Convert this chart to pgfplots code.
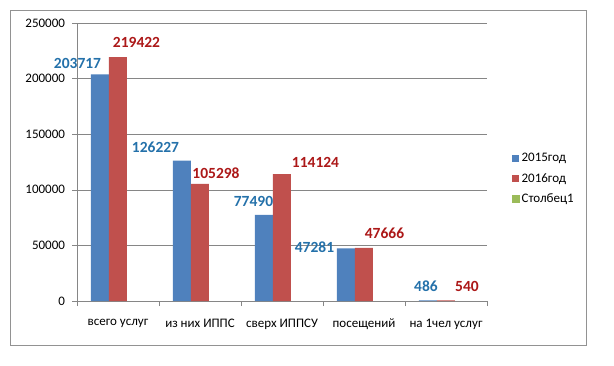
\documentclass[border=0pt]{standalone}
\usepackage{pgfplots}
\pgfplotsset{compat=1.18}
\usepackage{pgfplotstable}
\usepackage{fontspec}
\setmainfont{Carlito}
\definecolor{barblue}{RGB}{79,129,189}
\definecolor{barred}{RGB}{192,80,77}
\definecolor{bargreen}{RGB}{155,187,89}
\definecolor{lblblue}{RGB}{36,113,170}
\definecolor{lblred}{RGB}{172,24,24}
\definecolor{gridgray}{RGB}{134,134,134}

\pgfplotstableread{
x y dx dy
0 203717 -22.5 10.5
1 126227 -26.5 13.6
2 77490 -10.5 13.3
3 47281 -31.5 1.4
4 486 -2 13.8
}\bluedata
\pgfplotstableread{
x y dx dy
0 219422 18.5 15
1 105298 16 10.4
2 114124 33.5 12
3 47666 20.5 15
4 540 21 13.7
}\reddata

\begin{document}
\begin{tikzpicture}
\path (-77pt,-64pt) rectangle (537pt,301pt);
\draw[gridgray!90, line width=0.8pt] (-66.5pt,-44pt) rectangle (509pt,291pt);
\begin{axis}[
  at={(0pt,0pt)}, anchor=south west,
  scale only axis, width=410pt, height=278pt,
  xmin=-0.5, xmax=4.5, ymin=0, ymax=250000,
  ybar=0pt, bar width=18pt,
  axis x line*=bottom, axis y line*=left,
  axis line style={gridgray, line width=0.6pt},
  xtick={0,1,2,3,4},
  xticklabels={всего услуг, из них ИППС, сверх ИППСУ, посещений, на 1чел услуг},
  minor xtick={-0.5,0.5,1.5,2.5,3.5,4.5},
  major x tick style={draw=none},
  minor x tick style={gridgray, line width=0.6pt},
  minor tick length=5pt,
  major tick length=4.5pt,
  tick align=outside,
  ytick={0,50000,100000,150000,200000,250000},
  y tick style={gridgray, line width=0.6pt},
  ymajorgrids, major grid style={gridgray, line width=0.6pt},
  scaled y ticks=false,
  /pgf/number format/assume math mode=true,
  /pgf/number format/fixed,
  /pgf/number format/set thousands separator={},
  tick label style={font=\fontsize{13}{15}\selectfont, black},
  xticklabel style={yshift=-10pt},
  yticklabel style={xshift=-4pt},
  legend style={at={(1,0.44)}, anchor=west, xshift=22pt, draw=none, fill=none,
    font=\fontsize{13}{15}\selectfont, row sep=6pt,
    /tikz/every even column/.append style={column sep=2pt}},
  legend cell align=left,
  nodes near coords,
  point meta=explicit symbolic,
  visualization depends on={\thisrow{dx} \as \myDx},
  visualization depends on={\thisrow{dy} \as \myDy},
  every node near coord/.append style={anchor=center, xshift=\myDx pt, yshift=\myDy pt,
    font=\fontsize{15.5}{18}\selectfont\bfseries},
]
\addplot[fill=barblue, draw=none, bar shift=-18pt,
  every node near coord/.append style={text=lblblue},
  legend image code/.code={\fill[barblue] (0pt,-3.5pt) rectangle (7pt,3.5pt);}]
  table[x=x, y=y, meta=y] {\bluedata};
\addlegendentry{2015год}
\addplot[fill=barred, draw=none, bar shift=0pt,
  every node near coord/.append style={text=lblred},
  legend image code/.code={\fill[barred] (0pt,-3.5pt) rectangle (7pt,3.5pt);}]
  table[x=x, y=y, meta=y] {\reddata};
\addlegendentry{2016год}
\addlegendimage{legend image code/.code={\fill[bargreen] (0pt,-3.5pt) rectangle (7pt,3.5pt);}}
\addlegendentry{Столбец1}
\end{axis}
\end{tikzpicture}
\end{document}
